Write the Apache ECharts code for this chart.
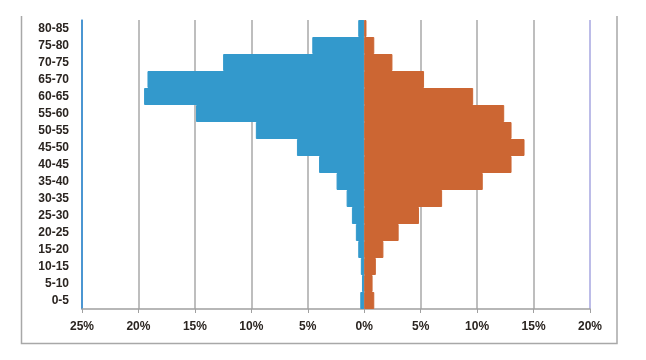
<!DOCTYPE html>
<html>
<head>
<meta charset="utf-8">
<script src="https://cdn.jsdelivr.net/npm/echarts@6/dist/echarts.min.js"></script>
<style>
html,body{margin:0;padding:0;background:#fff;}
#c{width:646px;height:360px;}
</style>
</head>
<body>
<div id="c"></div>
<script>
var categories = ['0-5','5-10','10-15','15-20','20-25','25-30','30-35','35-40','40-45','45-50','50-55','55-60','60-65','65-70','70-75','75-80','80-85'];
var leftValues = [0.35,0.2,0.3,0.53,0.74,1.09,1.56,2.45,4.0,5.96,9.6,14.9,19.5,19.2,12.5,4.6,0.53];
var rightValues = [0.89,0.74,1.03,1.7,3.05,4.85,6.9,10.5,13.05,14.2,13.05,12.4,9.65,5.3,2.5,0.89,0.2];
var xTicks = [-25,-20,-15,-10,-5,0,5,10,15,20];

var chart = echarts.init(document.getElementById('c'), null, {renderer:'canvas'});
var gridColors = xTicks.map(function(v,i){ return i===0 ? '#3f8fcf' : (i===xTicks.length-1 ? '#a6a6e0' : '#a8a8a8'); });
var font = {fontFamily:'Liberation Sans', fontSize:12, fontWeight:'bold', color:'#2a2420'};
chart.setOption({
  animation:false,
  backgroundColor:'#fff',
  grid:{left:82, right:56, top:20, bottom:51, containLabel:false},
  xAxis:{
    type:'value', min:xTicks[0], max:xTicks[xTicks.length-1], interval:5,
    axisLine:{show:true, onZero:false, lineStyle:{color:'#a0a0a0', width:1.5}},
    axisTick:{show:true, length:4, lineStyle:{color:'#a0a0a0'}},
    splitLine:{show:true, lineStyle:{color:gridColors, width:1.5}},
    axisLabel:Object.assign({margin:12, formatter:function(v){return Math.abs(v)+'%';}}, font)
  },
  yAxis:{
    type:'category', data:categories,
    axisLine:{show:true, onZero:false, lineStyle:{color:'#3f8fcf', width:1.5}},
    axisTick:{show:false},
    splitLine:{show:false},
    axisLabel:Object.assign({margin:13}, font)
  },
  series:[
    {type:'bar', name:'left', data:leftValues.map(function(v){return -v;}),
     barCategoryGap:0, barGap:'-100%',
     itemStyle:{color:'#3399cc', borderColor:'#3399cc', borderWidth:1}},
    {type:'bar', name:'right', data:rightValues,
     barCategoryGap:0, barGap:'-100%',
     itemStyle:{color:'#cc6633', borderColor:'#cc6633', borderWidth:1}}
  ],
  graphic:[
    {type:'polyline', shape:{points:[[21.5,16],[21.5,343.5],[617,343.5],[617,16]]},
     style:{stroke:'#a8a8a8', lineWidth:1.5, fill:null}, silent:true}
  ]
});
</script>
</body>
</html>
